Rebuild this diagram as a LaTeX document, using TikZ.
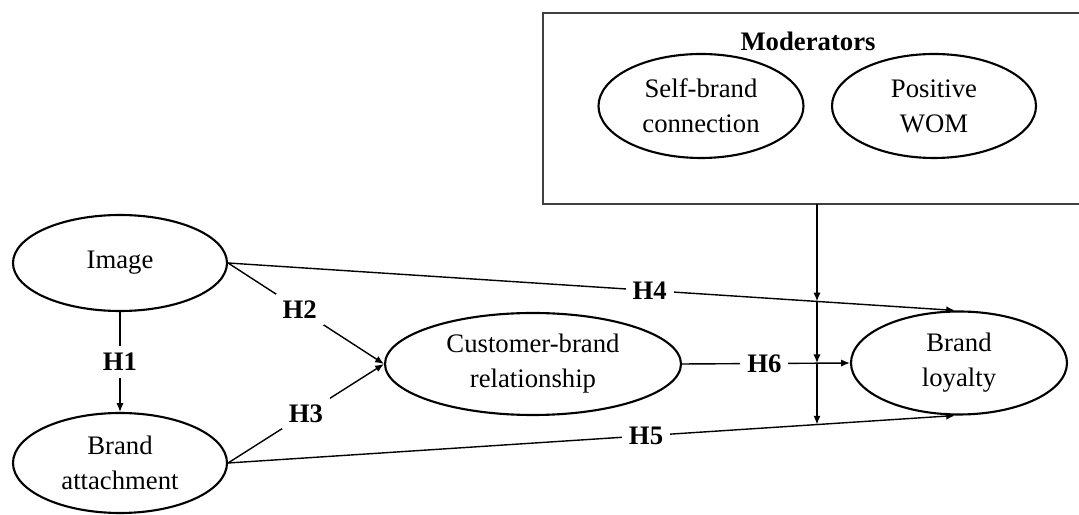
\documentclass[tikz,border=0pt]{standalone}
\usepackage{fontspec}
\setmainfont{Liberation Serif}
\usepackage{tikz}
\usetikzlibrary{shapes,arrows.meta,positioning,intersections}

\begin{document}
\begin{tikzpicture}[
    font=\fontsize{19}{25}\selectfont,
    construct/.style={draw, ellipse, line width=1.5pt, align=center, inner sep=0pt},
    hyp/.style={fill=white, font=\fontsize{19}{25}\selectfont\bfseries, inner sep=5pt},
    link/.style={line width=1pt, -{Latex[length=2.2mm,width=1.8mm]}}]
    \useasboundingbox (0,0) rectangle (26.975,12.875);

    % moderators box
    \node[draw, draw=black!75, line width=0.8pt, minimum width=13.475cm, minimum height=4.775cm, inner sep=0pt] (modbox) at (20.3125,10.1625) {};
    \node[font=\fontsize{19}{25}\selectfont\bfseries] (modtitle) at (20.2,11.85) {Moderators};
    \node[construct, minimum width=5.125cm, minimum height=2.6cm] (sbc) at (17.525,10.225) {Self-brand\\connection};
    \node[construct, minimum width=5.1cm, minimum height=2.6cm] (wom) at (23.35,10.225) {Positive\\WOM};

    % constructs
    \node[construct, minimum width=5.35cm, minimum height=2.4cm] (img) at (3.0,6.3) {Image};
    \node[construct, minimum width=5.35cm, minimum height=2.5cm] (att) at (3.0,1.3) {Brand\\attachment};
    \node[construct, minimum width=7.4cm, minimum height=2.55cm] (cbr) at (13.325,3.775) {Customer-brand\\relationship};
    \node[construct, minimum width=5.4cm, minimum height=2.575cm] (loy) at (23.975,3.8) {Brand\\loyalty};

    % hypotheses
    \draw[link] (img) -- (att) node[midway, hyp] {H1};
    \draw[link] (img.east) -- (cbr.west) node[pos=0.46, hyp] {H2};
    \draw[link] (att.east) -- (cbr.west) node[pos=0.5, hyp] {H3};
    \draw[link, name path=h4] (img.east) -- ([xshift=-0.1cm]loy.north) node[pos=0.58, hyp] {H4};
    \draw[link, name path=h5] (att.east) -- ([xshift=-0.1cm]loy.south) node[pos=0.575, hyp] {H5};
    \draw[link, name path=h6] (cbr.east) -- (loy.west) node[pos=0.49, hyp] {H6};

    % moderating effects
    \coordinate (modtop) at (20.425,7.775);
    \path[name path=vert] (modtop) -- ++(0,-6);
    \path[name intersections={of=vert and h4, by=m4}];
    \path[name intersections={of=vert and h6, by=m6}];
    \path[name intersections={of=vert and h5, by=m5}];
    \draw[link] (modtop) -- (m4);
    \draw[link] (m4) -- (m6);
    \draw[link] (m6) -- (m5);
\end{tikzpicture}
\end{document}
